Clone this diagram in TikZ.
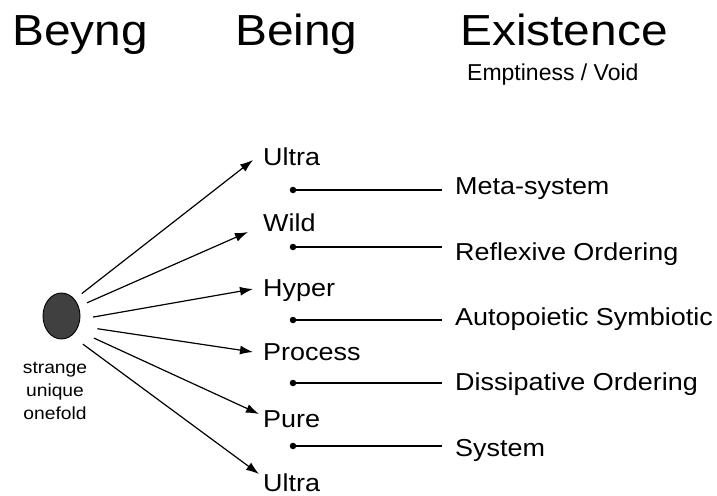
\documentclass[tikz,border=0pt]{standalone}
\usepackage{fontspec}
\setmainfont{Liberation Sans}[FakeStretch=1.1]
\newfontfamily\plainsans{Liberation Sans}
\usetikzlibrary{arrows.meta,shapes.geometric}

\tikzset{
  title/.style={anchor=base west, inner sep=0pt, font=\fontsize{43.5}{50}\selectfont},
  level/.style={anchor=base west, inner sep=0pt, font=\fontsize{24.5}{29}\selectfont},
  mode/.style={anchor=base west, inner sep=0pt, font=\fontsize{24.5}{29}\selectfont},
  pointer/.style={line width=1.2pt, -{Latex[length=13pt,width=9pt]}},
  tie/.style={line width=1.2pt},
  dot/.style={circle, fill=black, inner sep=0pt, minimum size=6.5pt},
}

\begin{document}
\begin{tikzpicture}[x=1pt, y=-1pt]
  \useasboundingbox (0,0) rectangle (717,495);

  % column headings
  \node[title] (beyng) at (12,46) {Beyng};
  \node[title] (being) at (235,46) {Being};
  \node[title] (exist) at (460,46) {Existence};
  \node[anchor=base west, inner sep=0pt, font=\plainsans\fontsize{23}{27}\selectfont]
    (void) at (467,81) {Emptiness / Void};

  % the onefold
  \node[ellipse, draw=black, line width=0.9pt, fill=black!75,
        minimum width=37pt, minimum height=46pt, inner sep=0pt] (src) at (61.5,316) {};
  \node[anchor=north, inner sep=0pt, align=center,
        font=\fontsize{17.5}{23}\selectfont] (cap) at (55,361.5) {strange\\unique\\onefold};

  % modes of being
  \node[level] (l1) at (263,165) {Ultra};
  \node[level] (l2) at (263,231) {Wild};
  \node[level] (l3) at (263,296) {Hyper};
  \node[level] (l4) at (263,360) {Process};
  \node[level] (l5) at (263,427) {Pure};
  \node[level] (l6) at (263,491) {Ultra};

  % arrow tips beside each mode
  \coordinate (t1) at (253,160);
  \coordinate (t2) at (248,232);
  \coordinate (t3) at (253,289);
  \coordinate (t4) at (253,352);
  \coordinate (t5) at (259,414);
  \coordinate (t6) at (259,474);

  \draw[pointer, shorten <=9pt]  (src.52)  -- (t1);
  \draw[pointer, shorten <=9pt]  (src.29)  -- (t2);
  \draw[pointer, shorten <=13pt] (src.-10) -- (t3);
  \draw[pointer, shorten <=19pt] (src.-30) -- (t4);
  \draw[pointer, shorten <=19pt] (src.-43) -- (t5);
  \draw[pointer, shorten <=14pt] (src.-63) -- (t6);

  % orders of existence
  \node[mode] (m1) at (455,194) {Meta-system};
  \node[mode] (m2) at (455,260) {Reflexive Ordering};
  \node[mode] (m3) at (455,325) {Autopoietic Symbiotic};
  \node[mode] (m4) at (455,390) {Dissipative Ordering};
  \node[mode] (m5) at (455,456) {System};

  % links between the two columns
  \node[dot] (d1) at (293,190) {};
  \node[dot] (d2) at (293,247) {};
  \node[dot] (d3) at (293,320) {};
  \node[dot] (d4) at (293,383) {};
  \node[dot] (d5) at (293,446) {};
  \coordinate (e1) at (442,190);
  \coordinate (e2) at (442,247);
  \coordinate (e3) at (442,320);
  \coordinate (e4) at (442,383);
  \coordinate (e5) at (442,446);
  \foreach \i in {1,...,5} \draw[tie] (d\i.center) -- (e\i);
\end{tikzpicture}
\end{document}
